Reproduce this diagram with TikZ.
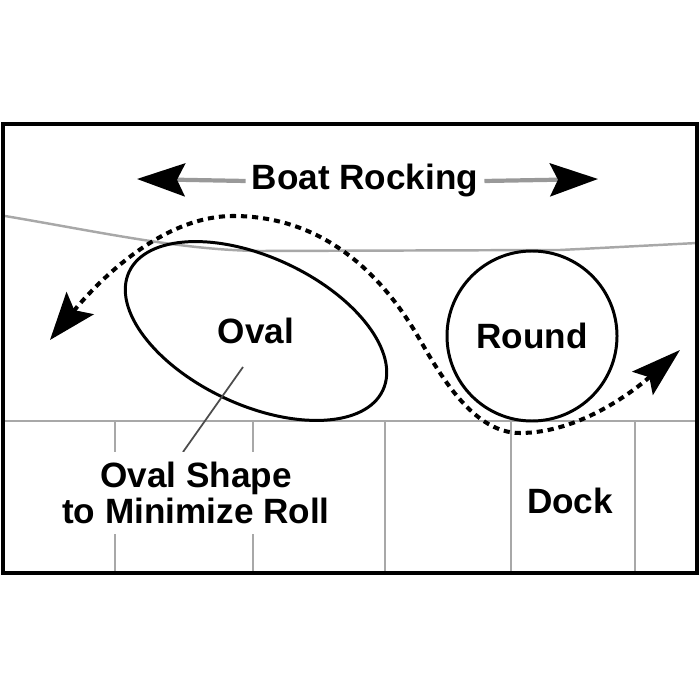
\documentclass[tikz,border=0pt]{standalone}
\usepackage{fontspec}
\setmainfont{Liberation Sans}
\usetikzlibrary{arrows.meta}
\definecolor{dockgray}{gray}{0.66}
\definecolor{shaftgray}{gray}{0.6}
\begin{document}
\begin{tikzpicture}[x=0.2mm, y=-0.2mm,
	lbl/.style={font=\fontsize{20}{20.5}\selectfont\bfseries},
	dockline/.style={dockgray, line width=1.4pt},
	shaft/.style={shaftgray, line width=2.4pt, -{Stealth[color=black, length=0.96cm, width=0.66cm, inset=0.16cm]}},
	rocking/.style={line width=2.3pt, dash pattern=on 3.5pt off 2.8pt, {Stealth[length=0.95cm, width=0.7cm, inset=0.18cm]}-{Stealth[length=1cm, width=0.62cm, inset=0.18cm]}}]
	\useasboundingbox (0,0) rectangle (700,700);
	
	\draw[dockline] (5,216) .. controls (100,232) and (180,250) .. (260,251) -- (560,250) .. controls (600,248) .. (697,243);
	\draw[dockline] (3,421) -- (697,421);
	\foreach \x in {115,253,385,511,635}
		\draw[dockline] (\x,421) -- (\x,573);
	
	\node[lbl] (oval) at (256,331) {Oval};
	\draw[line width=1.7pt, rotate around={-25:(oval.center)}] (oval.center) ellipse [x radius=2.8cm, y radius=1.48cm];
	\node[lbl, draw, circle, line width=1.7pt, minimum size=3.4cm] (round) at (532,336) {Round};
	\node[lbl] (dock) at (570,501) {Dock};
	
	\coordinate (ptr) at (243,367);
	\coordinate (ptrend) at (183,452);
	\draw[line width=1pt, black!70] (ptr) -- (ptrend);
	\node[lbl, fill=white, align=center, inner xsep=2pt, inner ysep=0.2cm] (note) at (196,493) {Oval Shape\\to Minimize Roll};
	
	\coordinate (lt) at (50,340);
	\coordinate (rt) at (680,350);
	\draw[rocking] (lt) .. controls (95,285) and (160,216) .. (233,216) .. controls (320,216) and (380,270) .. (420,340) .. controls (443,380) and (475,433) .. (520,433) .. controls (580,433) and (635,390) .. (rt);
	
	\node[lbl, anchor=base] (rock) at (365,190) {Boat Rocking};
	\coordinate (ltip) at (137,179);
	\coordinate (rtip) at (598,179);
	\draw[shaft] (rock.west) -- (ltip);
	\draw[shaft] (rock.east) -- (rtip);
	
	\draw[line width=1.8pt] (3,124) rectangle (697,573);
\end{tikzpicture}
\end{document}
